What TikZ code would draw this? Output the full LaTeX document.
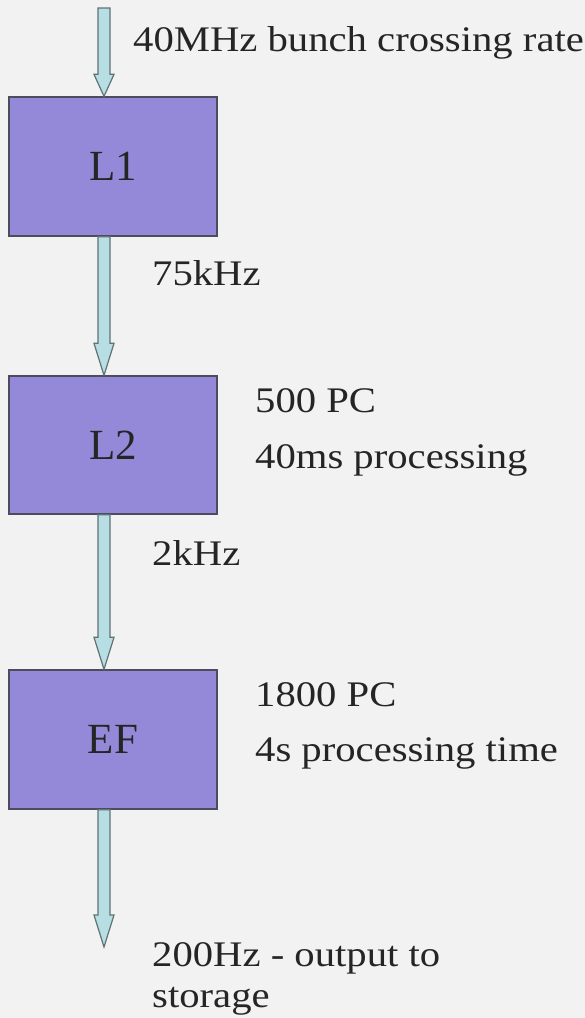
\documentclass[tikz,border=0pt]{standalone}
\usepackage{fontspec}
\setmainfont{Liberation Serif}
\newfontfamily\lblfont{Liberation Serif}[FakeStretch=1.13]
\usetikzlibrary{calc}
\definecolor{bg}{HTML}{F2F2F2}
\definecolor{boxfill}{HTML}{9489D8}
\definecolor{boxline}{HTML}{4C4C5C}
\definecolor{arrfill}{HTML}{B7DEE3}
\definecolor{arrline}{HTML}{5F7276}
\definecolor{txt}{HTML}{252525}
\tikzset{
  stage/.style={draw=boxline, fill=boxfill, line width=1.4pt, minimum width=208pt,
    minimum height=139pt, inner sep=0pt, font=\fontsize{43pt}{43pt}\selectfont, text=txt},
  lbl/.style={anchor=base west, inner sep=0pt, font=\lblfont\fontsize{36pt}{43pt}\selectfont, text=txt},
  blockarrow/.style={to path={let \p1=(\tikztostart), \p2=(\tikztotarget) in
    (\x1-6pt,\y1) -- (\x1-6pt,\y2+#1) -- (\x1-10pt,\y2+#1) -- (\x2,\y2)
    -- (\x1+10pt,\y2+#1) -- (\x1+6pt,\y2+#1) -- (\x1+6pt,\y1) -- cycle}},
  blockarrow/.default=32pt,
  flow/.style={draw=arrline, fill=arrfill, line width=1.2pt, line join=miter}
}
\begin{document}
\begin{tikzpicture}[x=1pt,y=-1pt]
\fill[bg] (0,0) rectangle (585,1018);
\useasboundingbox (0,0) rectangle (585,1018);

\node[stage] (L1) at (113,166.5) {L1};
\node[stage, minimum height=138pt] (L2) at (113,445) {L2};
\node[stage] (EF) at (113,739.5) {EF};

\coordinate (in) at (104,8);
\coordinate (out) at (104,947);

\path[flow] (in) to[blockarrow=22pt] (L1.north -| in);
\path[flow] (L1.south -| in) to[blockarrow] (L2.north -| in);
\path[flow] (L2.south -| in) to[blockarrow] (EF.north -| in);
\path[flow] (EF.south -| in) to[blockarrow] (out);

\node[lbl] (t0) at (133,51) {40MHz bunch crossing rate};
\node[lbl] (t1) at (152,285) {75kHz};
\node[lbl] (t2) at (255,412) {500 PC};
\node[lbl] (t3) at (255,468) {40ms processing};
\node[lbl] (t4) at (152,565) {2kHz};
\node[lbl] (t5) at (255,706) {1800 PC};
\node[lbl] (t6) at (255,761) {4s processing time};
\node[lbl] (t7) at (152,966) {200Hz - output to};
\node[lbl] (t8) at (152,1007) {storage};
\end{tikzpicture}
\end{document}
